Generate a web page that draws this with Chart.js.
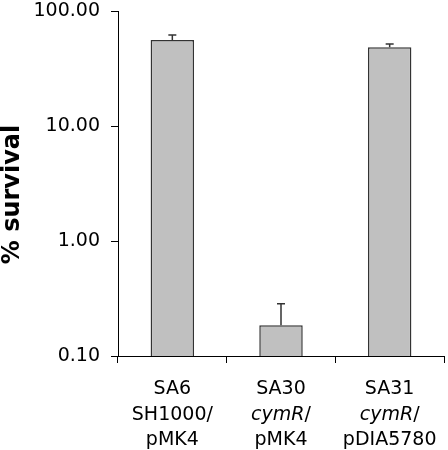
<!DOCTYPE html>
<html>
<head>
<meta charset="utf-8">
<script src="https://cdn.jsdelivr.net/npm/chart.js@4/dist/chart.umd.min.js"></script>
<style>
    body { margin: 0; background: #fff; }
</style>
</head>
<body>
<canvas id="survival_chart" width="448" height="450"></canvas>
<script>
// strains, with the multi-line labels drawn under each bar (*text* = italic)
const strains = ['SA6', 'SA30', 'SA31'];
const strainLines = [
    ['SA6', 'SH1000/', 'pMK4'],
    ['SA30', '*cymR*/', 'pMK4'],
    ['SA31', '*cymR*/', 'pDIA5780']
];
const survival = [56, 0.185, 48.3];      // % survival
const survivalErr = [5.8, 0.1, 3.3];     // upper error
const yTicks = [0.1, 1, 10, 100];

const FONT = '"DejaVu Sans", Verdana, sans-serif';

// draws the upward error bars from the scale positions
const errorBars = {
    id: 'errorBars',
    afterDatasetsDraw(chart) {
        const ctx = chart.ctx;
        const y = chart.scales.y;
        const meta = chart.getDatasetMeta(0);
        ctx.save();
        ctx.strokeStyle = '#333';
        ctx.lineWidth = 1.5;
        for (let i = 0; i < survival.length; i++) {
            let x = meta.data[i].x;
            let yBar = y.getPixelForValue(survival[i]);
            let yTop = y.getPixelForValue(survival[i] + survivalErr[i]);
            ctx.beginPath();
            ctx.moveTo(x, yBar);
            ctx.lineTo(x, yTop);
            ctx.moveTo(x - 4, yTop);
            ctx.lineTo(x + 4, yTop);
            ctx.stroke();
        }
        ctx.restore();
    }
};

// category labels with italic gene names, and the y title
const labelsAndTitle = {
    id: 'labelsAndTitle',
    afterDraw(chart) {
        const ctx = chart.ctx;
        const area = chart.chartArea;
        const xScale = chart.scales.x;
        ctx.save();
        ctx.fillStyle = '#000';
        ctx.textBaseline = 'alphabetic';
        ctx.textAlign = 'left';
        for (let i = 0; i < strainLines.length; i++) {
            let cx = xScale.getPixelForValue(i);
            for (let k = 0; k < strainLines[i].length; k++) {
                let parts = strainLines[i][k].split('*');
                let total = 0;
                for (let p = 0; p < parts.length; p++) {
                    ctx.font = (p % 2 == 1 ? 'italic ' : '') + '19px ' + FONT;
                    total += ctx.measureText(parts[p]).width;
                }
                let px = cx - total / 2;
                let py = area.bottom + 38 + k * 25.5;
                for (let p = 0; p < parts.length; p++) {
                    ctx.font = (p % 2 == 1 ? 'italic ' : '') + '19px ' + FONT;
                    ctx.fillText(parts[p], px, py);
                    px += ctx.measureText(parts[p]).width;
                }
            }
        }
        // y axis title
        ctx.translate(13, (area.top + area.bottom) / 2 + 11);
        ctx.rotate(-Math.PI / 2);
        ctx.textAlign = 'center';
        ctx.textBaseline = 'middle';
        ctx.font = 'bold 24px ' + FONT;
        ctx.fillText('% survival', 0, 0);
        ctx.restore();
    }
};

const data = {
    labels: strains,
    datasets: [{
        data: survival,
        backgroundColor: '#C0C0C0',
        borderColor: '#333',
        borderWidth: 1.5,
        barPercentage: 0.4,
        categoryPercentage: 1.0
    }]
};

const config = {
    type: 'bar',
    data: data,
    options: {
        responsive: false,
        animation: false,
        layout: { padding: { top: 11, right: 4, left: 0, bottom: 0 } },
        plugins: {
            legend: { display: false },
            tooltip: { enabled: false }
        },
        scales: {
            x: {
                offset: true,
                grid: { offset: true, drawOnChartArea: false, tickLength: 7, color: '#000' },
                border: { color: '#000', width: 1 },
                ticks: { display: false },
                afterFit: function(scale) { scale.height = 94; }
            },
            y: {
                type: 'logarithmic',
                min: 0.1,
                max: 100,
                afterBuildTicks: function(scale) {
                    scale.ticks = yTicks.map(function(v) { return { value: v }; });
                },
                grid: { drawOnChartArea: false, tickLength: 7, color: '#000' },
                border: { color: '#000', width: 1 },
                ticks: {
                    color: '#000',
                    padding: 11,
                    font: { family: FONT, size: 19 },
                    callback: function(v) { return Number(v).toFixed(2); }
                },
                afterFit: function(scale) {
                    scale.width = 118;
                    scale.paddingTop = 0;
                    scale.paddingBottom = 0;
                }
            }
        }
    },
    plugins: [errorBars, labelsAndTitle]
};

const myChart = new Chart(document.getElementById('survival_chart'), config);
</script>
</body>
</html>
